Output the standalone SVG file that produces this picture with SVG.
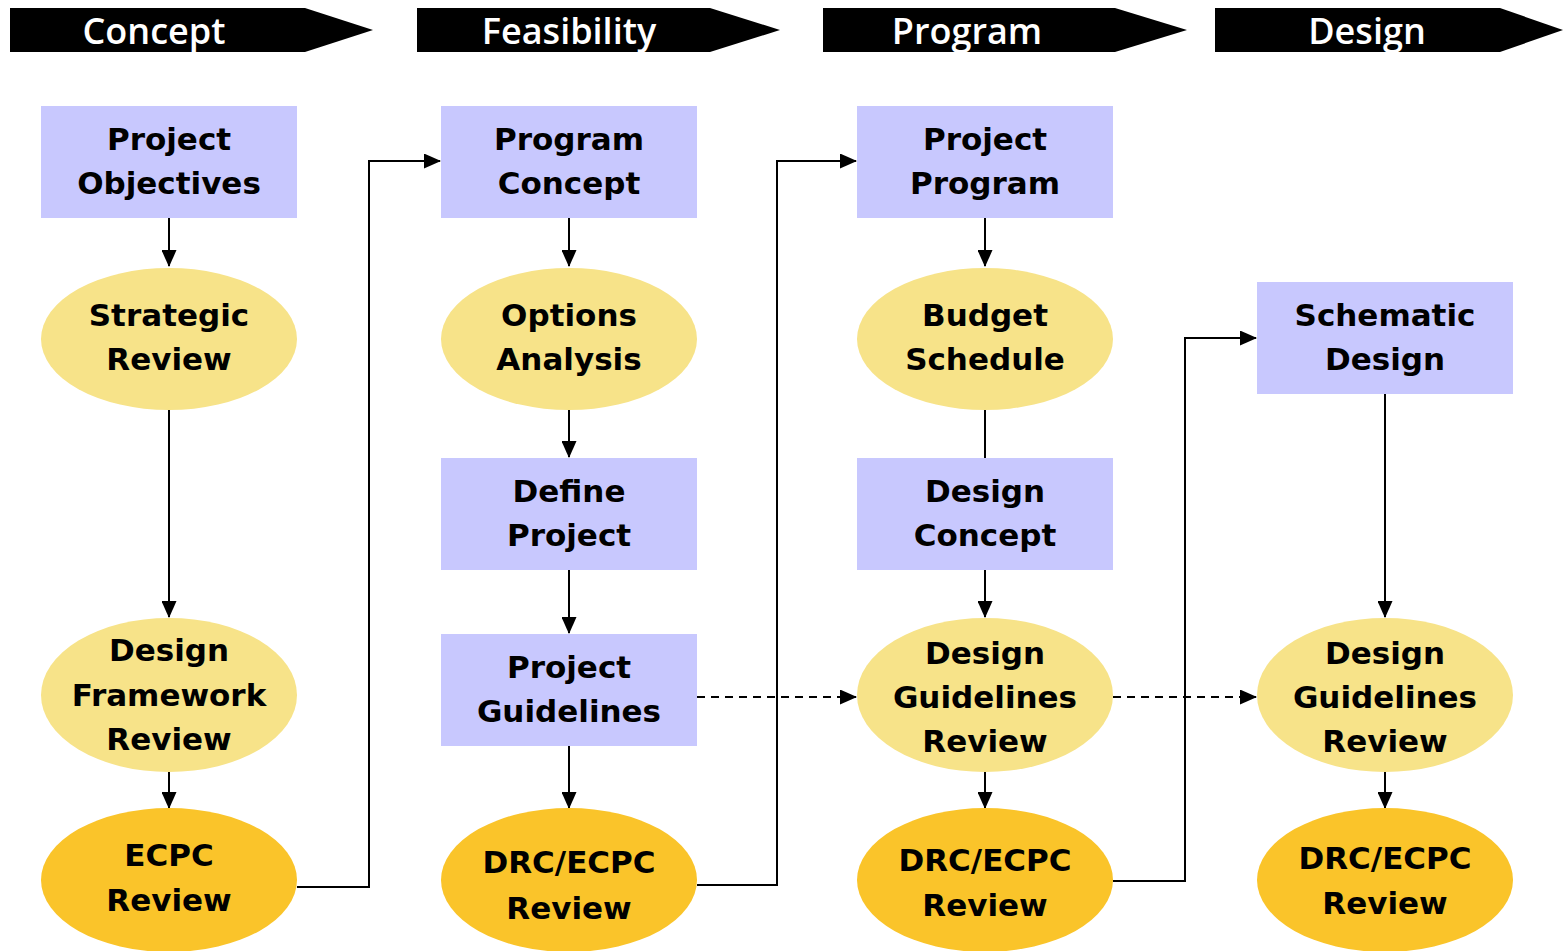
<svg xmlns="http://www.w3.org/2000/svg" width="1565" height="951" viewBox="0 0 1565 951">
<style>
.hdr{fill:#000}
.ht{font-family:"Open Sans",sans-serif;font-weight:600;font-size:36px;fill:#fff;text-anchor:middle}
.box{fill:#C8C8FE}
.lt{fill:#F7E389}
.dk{fill:#FAC42A}
.t{font-family:"DejaVu Sans",sans-serif;font-weight:bold;font-size:31px;fill:#000;text-anchor:middle;dominant-baseline:central}
.c{fill:none;stroke:#000;stroke-width:2}
.d{fill:none;stroke:#000;stroke-width:2;stroke-dasharray:8,6}
</style>
<defs>
<marker id="ah" markerWidth="17" markerHeight="15" refX="16" refY="7.5" orient="auto" markerUnits="userSpaceOnUse">
<path d="M0,0 L17,7.5 L0,15 Z" fill="#000"/>
</marker>
</defs>
<rect width="1565" height="951" fill="#fff"/>
<g id="headers">
<g id="h-concept"><path class="hdr" d="M10,8 H305 L373,30 L305,52 H10 Z"/><text class="ht" x="154" y="44">Concept</text></g>
<g id="h-feasibility"><path class="hdr" d="M417,8 H710 L780,30 L710,52 H417 Z"/><text class="ht" x="569" y="44">Feasibility</text></g>
<g id="h-program"><path class="hdr" d="M823,8 H1115 L1187,30 L1115,52 H823 Z"/><text class="ht" x="967" y="44">Program</text></g>
<g id="h-design"><path class="hdr" d="M1215,8 H1500 L1563,30 L1500,52 H1215 Z"/><text class="ht" x="1367" y="44">Design</text></g>
</g>
<g id="connectors">
<line class="c" x1="169" y1="218" x2="169" y2="266" marker-end="url(#ah)"/>
<line class="c" x1="169" y1="410" x2="169" y2="617" marker-end="url(#ah)"/>
<line class="c" x1="169" y1="772" x2="169" y2="808" marker-end="url(#ah)"/>
<polyline class="c" points="297,887 369,887 369,161 440,161" marker-end="url(#ah)"/>
<line class="c" x1="569" y1="218" x2="569" y2="266" marker-end="url(#ah)"/>
<line class="c" x1="569" y1="410" x2="569" y2="457" marker-end="url(#ah)"/>
<line class="c" x1="569" y1="570" x2="569" y2="633" marker-end="url(#ah)"/>
<line class="c" x1="569" y1="746" x2="569" y2="808" marker-end="url(#ah)"/>
<polyline class="c" points="697,885 777,885 777,161 856,161" marker-end="url(#ah)"/>
<line class="d" x1="697" y1="697" x2="856" y2="697" marker-end="url(#ah)"/>
<line class="c" x1="985" y1="218" x2="985" y2="266" marker-end="url(#ah)"/>
<line class="c" x1="985" y1="410" x2="985" y2="458"/>
<line class="c" x1="985" y1="570" x2="985" y2="617" marker-end="url(#ah)"/>
<line class="c" x1="985" y1="772" x2="985" y2="808" marker-end="url(#ah)"/>
<polyline class="c" points="1113,881 1185,881 1185,338 1256,338" marker-end="url(#ah)"/>
<line class="d" x1="1113" y1="697" x2="1256" y2="697" marker-end="url(#ah)"/>
<line class="c" x1="1385" y1="394" x2="1385" y2="617" marker-end="url(#ah)"/>
<line class="c" x1="1385" y1="772" x2="1385" y2="808" marker-end="url(#ah)"/>
</g>
<g id="n-project-objectives"><rect class="box" x="41" y="106" width="256" height="112"/><text class="t" x="169" y="139">Project</text><text class="t" x="169" y="183">Objectives</text></g>
<g id="n-strategic-review"><ellipse class="lt" cx="169" cy="339" rx="128" ry="71"/><text class="t" x="169" y="315">Strategic</text><text class="t" x="169" y="359">Review</text></g>
<g id="n-design-framework-review"><ellipse class="lt" cx="169" cy="695" rx="128" ry="77"/><text class="t" x="169" y="650">Design</text><text class="t" x="169" y="695">Framework</text><text class="t" x="169" y="739">Review</text></g>
<g id="n-ecpc-review"><ellipse class="dk" cx="169" cy="880" rx="128" ry="72"/><text class="t" x="169" y="855">ECPC</text><text class="t" x="169" y="900">Review</text></g>
<g id="n-program-concept"><rect class="box" x="441" y="106" width="256" height="112"/><text class="t" x="569" y="139">Program</text><text class="t" x="569" y="183">Concept</text></g>
<g id="n-options-analysis"><ellipse class="lt" cx="569" cy="339" rx="128" ry="71"/><text class="t" x="569" y="315">Options</text><text class="t" x="569" y="359">Analysis</text></g>
<g id="n-define-project"><rect class="box" x="441" y="458" width="256" height="112"/><text class="t" x="569" y="491">Define</text><text class="t" x="569" y="535">Project</text></g>
<g id="n-project-guidelines"><rect class="box" x="441" y="634" width="256" height="112"/><text class="t" x="569" y="667">Project</text><text class="t" x="569" y="711">Guidelines</text></g>
<g id="n-drc-ecpc-review-2"><ellipse class="dk" cx="569" cy="880" rx="128" ry="72"/><text class="t" x="569" y="862">DRC/ECPC</text><text class="t" x="569" y="908">Review</text></g>
<g id="n-project-program"><rect class="box" x="857" y="106" width="256" height="112"/><text class="t" x="985" y="139">Project</text><text class="t" x="985" y="183">Program</text></g>
<g id="n-budget-schedule"><ellipse class="lt" cx="985" cy="339" rx="128" ry="71"/><text class="t" x="985" y="315">Budget</text><text class="t" x="985" y="359">Schedule</text></g>
<g id="n-design-concept"><rect class="box" x="857" y="458" width="256" height="112"/><text class="t" x="985" y="491">Design</text><text class="t" x="985" y="535">Concept</text></g>
<g id="n-design-guidelines-review-3"><ellipse class="lt" cx="985" cy="695" rx="128" ry="77"/><text class="t" x="985" y="653">Design</text><text class="t" x="985" y="697">Guidelines</text><text class="t" x="985" y="741">Review</text></g>
<g id="n-drc-ecpc-review-3"><ellipse class="dk" cx="985" cy="880" rx="128" ry="72"/><text class="t" x="985" y="860">DRC/ECPC</text><text class="t" x="985" y="905">Review</text></g>
<g id="n-schematic-design"><rect class="box" x="1257" y="282" width="256" height="112"/><text class="t" x="1385" y="315">Schematic</text><text class="t" x="1385" y="359">Design</text></g>
<g id="n-design-guidelines-review-4"><ellipse class="lt" cx="1385" cy="695" rx="128" ry="77"/><text class="t" x="1385" y="653">Design</text><text class="t" x="1385" y="697">Guidelines</text><text class="t" x="1385" y="741">Review</text></g>
<g id="n-drc-ecpc-review-4"><ellipse class="dk" cx="1385" cy="880" rx="128" ry="72"/><text class="t" x="1385" y="858">DRC/ECPC</text><text class="t" x="1385" y="903">Review</text></g>
</svg>
